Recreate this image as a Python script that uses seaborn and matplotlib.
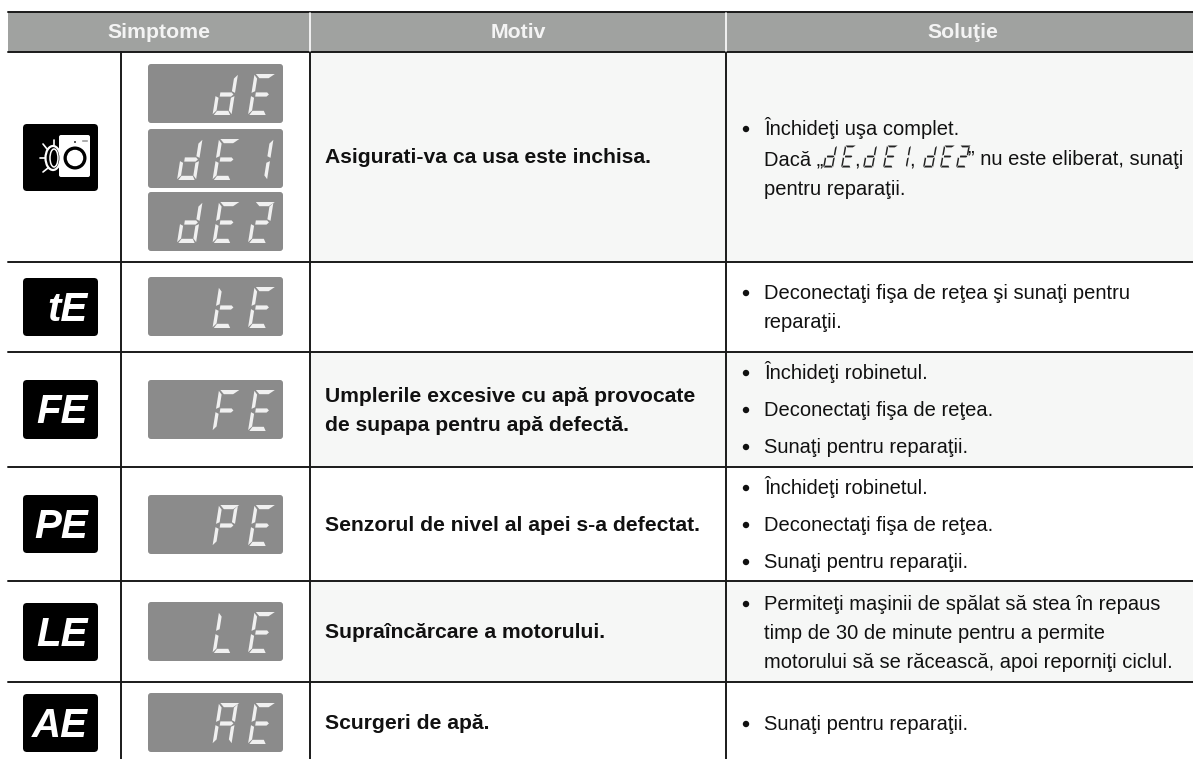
import pandas as pd
import seaborn as sns
from matplotlib import pyplot as plt
from matplotlib.patches import Circle, Ellipse, FancyBboxPatch, Polygon, Rectangle

headers = ["Simptome", "Motiv", "Soluţie"]
icon_labels = ["", "tE", "FE", "PE", "LE", "AE"]
display_codes = [["dE", "dE1", "dE2"], ["tE"], ["FE"], ["PE"], ["LE"], ["AE"]]
shaded_rows = [True, False, True, False, True, False]
causes = [
    ["Asigurati-va ca usa este inchisa."],
    [],
    ["Umplerile excesive cu apă provocate", "de supapa pentru apă defectă."],
    ["Senzorul de nivel al apei s-a defectat."],
    ["Supraîncărcare a motorului."],
    ["Scurgeri de apă."],
]
solutions = [
    [],
    [["Deconectaţi fişa de reţea şi sunaţi pentru", "reparaţii."]],
    [["Închideţi robinetul."], ["Deconectaţi fişa de reţea."], ["Sunaţi pentru reparaţii."]],
    [["Închideţi robinetul."], ["Deconectaţi fişa de reţea."], ["Sunaţi pentru reparaţii."]],
    [["Permiteţi maşinii de spălat să stea în repaus",
      "timp de 30 de minute pentru a permite",
      "motorului să se răcească, apoi reporniţi ciclul."]],
    [["Sunaţi pentru reparaţii."]],
]
first_solution = ["Închideţi uşa complet.", "Dacă „", "” nu este eliberat, sunaţi", "pentru reparaţii."]

# layout in pixels of the page
W, H = 1193, 759
left = 8
col_lines = [121, 310, 726]
row_lines = [52, 262, 352, 467, 581, 682, 759]
top_line = 12
icon_tops = [124, 278, 380, 495, 603, 694]
icon_h = [67, 58, 59, 58, 58, 58]
panel_tops = [[64, 129, 192], [277], [380], [495], [602], [693]]
panel_h = 59
# text baselines
text_rows = [[], [[299, 328]], [[379], [416], [453]], [[494], [531], [568]], [[610, 639, 668]], [[730]]]
cause_rows = [[163], [], [402, 431], [531], [638], [729]]

# which segments each character lights up
SEGS = {"d": "bcdeg", "E": "adefg", "1": "bc", "2": "abged", "t": "fedg",
        "F": "afeg", "P": "abfeg", "L": "fed", "A": "abcefg"}

FS = 14.5
FS_BOLD = 15.2
TXT = "#111111"


def seg_polys(x0, y0, w, h, slant, t):
    # x0,y0 = lower left of the glyph, w,h size, slant = top shift, t = stroke
    def p(u, v):
        return (x0 + u * w + v * slant, y0 - v * h)
    tu, tv = t / w, t / h
    m = 0.07
    return {
        "a": [p(m, 1), p(1 + m, 1), p(1 - tu, 1 - tv), p(m + tu, 1 - tv)],
        "d": [p(m, 0), p(1 - m, 0), p(1 - m - tu * .6, tv), p(m + tu * .6, tv)],
        "g": [p(m + tu * .7, .5 + tv / 2), p(1 - m - tu * .5, .5 + tv / 2), p(1 - m, .5), p(1 - m - tu * .5, .5 - tv / 2), p(m + tu * .7, .5 - tv / 2)],
        "f": [p(0, .54), p(tu * .8, .58), p(tu * .8, 1 - tv - .01), p(0, .98)],
        "e": [p(0, .02), p(tu * .8, tv + .01), p(tu * .8, .42), p(0, .46)],
        "b": [p(1, .54), p(1 - tu * .8, .58), p(1 - tu * .8, 1 - tv - .01), p(1, .98)],
        "c": [p(1, .02), p(1 - tu * .8, tv + .01), p(1 - tu * .8, .42), p(1, .46)],
    }


def draw_char(ax, ch, x0, y0, w, h, slant, t, color):
    polys = seg_polys(x0, y0, w, h, slant, t)
    for s in SEGS[ch]:
        ax.add_patch(Polygon(polys[s], closed=True, fc=color, ec="none", zorder=5))


def draw_code(ax, code, right, bottom, pitch=35.5):
    # right aligned in the three slots of the panel
    for i, ch in enumerate(reversed(code)):
        draw_char(ax, ch, right - pitch * i - 25, bottom, 19, 41, 6.5, 4.2, "#f0f0f0")


def draw_washer(ax):
    ax.add_patch(FancyBboxPatch((59, 135), 31, 42, boxstyle="round,pad=0,rounding_size=2", fc="white", ec="none", zorder=4))
    ax.add_patch(Circle((75, 158), 11.5, fc="black", ec="none", zorder=5))
    ax.add_patch(Circle((75, 158), 8.2, fc="white", ec="none", zorder=6))
    ax.add_patch(Rectangle((73, 140), 3, 2.5, fc="black", zorder=6))
    ax.add_patch(Rectangle((81, 139), 7, 2.5, fc="#999999", zorder=6))
    ax.add_patch(Ellipse((53, 158), 15, 24, fc="black", ec="white", lw=1.6, zorder=7))
    ax.add_patch(Ellipse((54, 158), 8, 18, fc="black", ec="white", lw=1.1, zorder=7))
    for seg in [((43, 144), (47, 149)), ((40, 158), (45, 158)), ((43, 172), (48, 168)), ((54, 140), (54, 145))]:
        ax.plot([seg[0][0], seg[1][0]], [seg[0][1], seg[1][1]], color="white", lw=1.2, zorder=6)


def draw_inline_codes(ax):
    # the small display letters in the first solution line
    for ch, x in [("d", 823), ("E", 841), ("d", 863), ("E", 883), ("1", 897), ("d", 923), ("E", 940), ("2", 956)]:
        draw_char(ax, ch, x, 167.5, 10, 22, 4, 1.9, "#222222")
    ax.text(854, 165, ",", fontsize=FS, va="baseline", ha="left", color=TXT)
    ax.text(909, 165, ",", fontsize=FS, va="baseline", ha="left", color=TXT)


sns.set_theme(style="white")
plt.rcParams["font.family"] = ["Liberation Sans", "DejaVu Sans"]

fig = plt.figure(figsize=(W / 100, H / 100), dpi=100)
ax = fig.add_axes([0, 0, 1, 1])

# header band and shaded cells
ax.add_patch(Rectangle((left, top_line), W - left, row_lines[0] - top_line, fc="#a0a2a0", ec="none", zorder=0))
for i, shaded in enumerate(shaded_rows):
    if shaded:
        ax.add_patch(Rectangle((col_lines[1], row_lines[i]), W - col_lines[1], row_lines[i + 1] - row_lines[i],
                               fc="#f6f7f6", ec="none", zorder=0))

# table rules
rules = []
for k, y in enumerate([top_line] + row_lines[:-1]):
    rules += [{"rule": f"h{k}", "x": left, "y": y}, {"rule": f"h{k}", "x": W, "y": y}]
for k, x in enumerate(col_lines):
    rules += [{"rule": f"v{k}", "x": x, "y": row_lines[0]}, {"rule": f"v{k}", "x": x, "y": H}]
rules = pd.DataFrame(rules)
sns.lineplot(data=rules, x="x", y="y", units="rule", estimator=None, sort=False,
             color="#1a1a1a", linewidth=1.4, legend=False, ax=ax, zorder=3)
for x in col_lines[1:]:
    ax.plot([x, x], [top_line + 1, row_lines[0] - 1], color="white", lw=1.2, zorder=3)

for label, x in zip(headers, [159, 518, 963]):
    ax.text(x, 38.5, label, color="#f4f4f4", fontsize=15.3, fontweight="bold", ha="center", va="baseline")

for i in range(6):
    ax.add_patch(FancyBboxPatch((23, icon_tops[i]), 75, icon_h[i], boxstyle="round,pad=0,rounding_size=4",
                                fc="black", ec="none", zorder=2))
    if icon_labels[i]:
        ax.text(88, icon_tops[i] + 43, icon_labels[i], color="white", fontsize=29,
                fontweight="bold", fontstyle="italic", ha="right", va="baseline", zorder=5)
    for code, top in zip(display_codes[i], panel_tops[i]):
        ax.add_patch(FancyBboxPatch((148, top), 135, panel_h, boxstyle="round,pad=0,rounding_size=3",
                                    fc="#8b8b8b", ec="none", zorder=2))
        draw_code(ax, code, 273, top + 51)
    for line, y in zip(causes[i], cause_rows[i]):
        ax.text(325, y, line, color=TXT, fontsize=FS_BOLD, fontweight="bold", va="baseline", ha="left")
    for item, ys in zip(solutions[i], text_rows[i]):
        ax.add_patch(Circle((746, ys[0] - 6), 3.2, fc=TXT, ec="none", zorder=4))
        for line, y in zip(item, ys):
            ax.text(764, y, line, color=TXT, fontsize=FS, va="baseline", ha="left")

# first row solution has display letters inside the sentence
ax.add_patch(Circle((746, 129), 3.2, fc=TXT, ec="none", zorder=4))
ax.text(764, 135, first_solution[0], color=TXT, fontsize=FS, va="baseline", ha="left")
ax.text(764, 165, first_solution[1], color=TXT, fontsize=FS, va="baseline", ha="left")
ax.text(968, 165, first_solution[2], color=TXT, fontsize=FS, va="baseline", ha="left")
ax.text(764, 195, first_solution[3], color=TXT, fontsize=FS, va="baseline", ha="left")
draw_washer(ax)
draw_inline_codes(ax)

ax.set_xlim(0, W)
ax.set_ylim(H, 0)
ax.set_xlabel("")
ax.set_ylabel("")
ax.axis("off")
fig.savefig("out.png", dpi=100)
